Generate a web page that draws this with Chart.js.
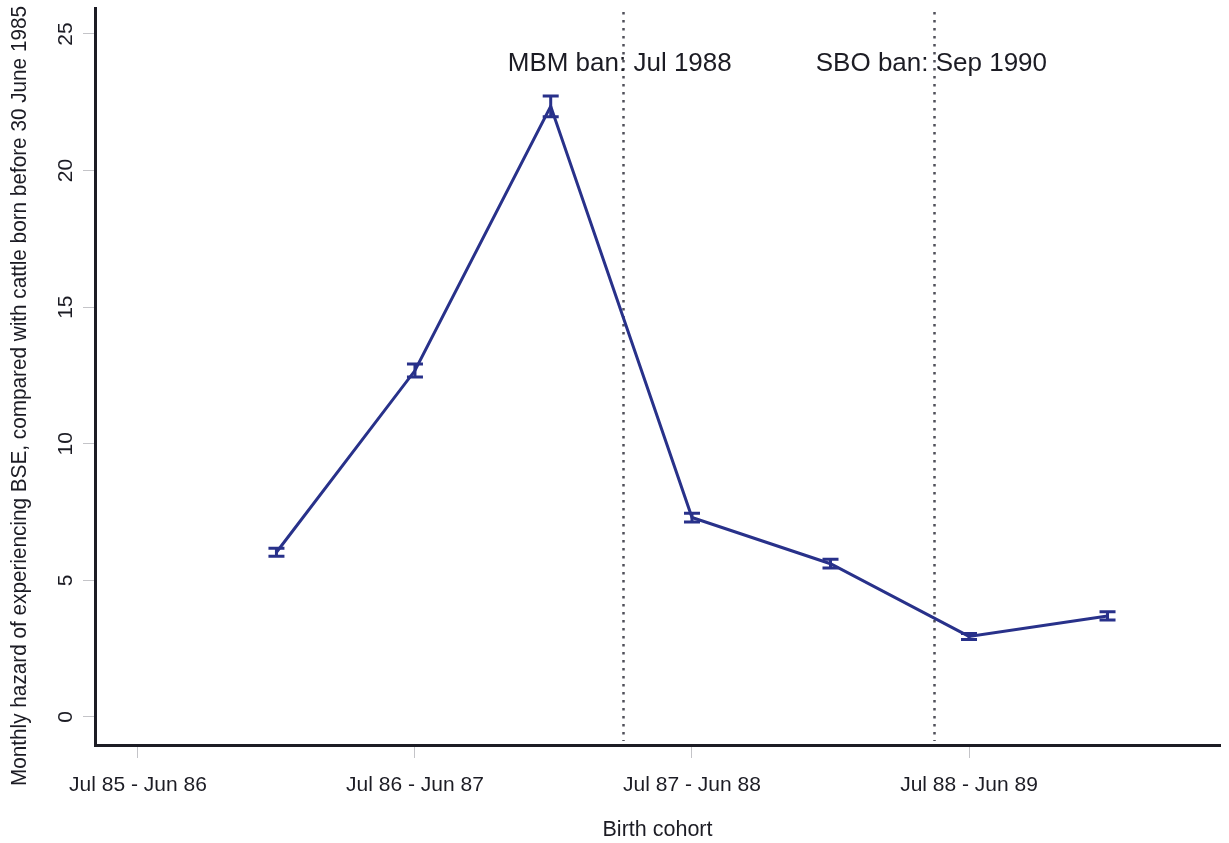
<!DOCTYPE html>
<html>
<head>
<meta charset="utf-8">
<title>Monthly hazard of BSE by birth cohort</title>
<script src="https://cdn.jsdelivr.net/npm/chart.js@4.4.1/dist/chart.umd.min.js"></script>
<style>
  html, body { margin: 0; padding: 0; background: #ffffff; }
  #wrap { width: 1229px; height: 843px; position: relative; }
</style>
</head>
<body>
<div id="wrap"><canvas id="chart" width="1229" height="843"></canvas></div>
<script>
// Birth cohort tick positions and their labels
const cohortTicks = [0, 1, 2, 3];
const cohortLabels = ['Jul 85 - Jun 86', 'Jul 86 - Jun 87', 'Jul 87 - Jun 88', 'Jul 88 - Jun 89'];

// Estimated hazard ratios (half-year steps) with confidence limits
const pointPos = [0.5, 1, 1.49, 2, 2.5, 3, 3.5];
const hazard = [6.03, 12.68, 22.35, 7.30, 5.61, 2.95, 3.70];
const ciLow  = [5.88, 12.44, 21.97, 7.14, 5.45, 2.84, 3.55];
const ciHigh = [6.18, 12.92, 22.73, 7.46, 5.77, 3.06, 3.85];

// Y axis ticks
const yTicks = [0, 5, 10, 15, 20, 25];

// Feed ban dates on the cohort axis
const banPos = [1.75, 2.875];
const banLabels = ['MBM ban: Jul 1988', 'SBO ban: Sep 1990'];

const INK = '#1c1c24';
const NAVY = '#28318a';
const FONT = '"Liberation Sans", Arial, Helvetica, sans-serif';

function drawText(ctx, text, x, y, size, sx, rot) {
  ctx.save();
  ctx.translate(x, y);
  if (rot) ctx.rotate(rot);
  ctx.scale(sx, 1);
  ctx.font = size + 'px ' + FONT;
  ctx.fillStyle = INK;
  ctx.textAlign = 'center';
  ctx.textBaseline = 'middle';
  ctx.fillText(text, 0, 0);
  ctx.restore();
}

const decorations = {
  id: 'decorations',
  beforeDatasetsDraw(chart) {
    const ctx = chart.ctx;
    const xs = chart.scales.x;
    const area = chart.chartArea;
    // dotted ban lines
    ctx.save();
    ctx.strokeStyle = '#50505a';
    ctx.lineWidth = 2.5;
    ctx.setLineDash([2.5, 5.5]);
    banPos.forEach(p => {
      const px = Math.round(xs.getPixelForValue(p)) + 0.5;
      ctx.beginPath();
      ctx.moveTo(px, area.top + 4);
      ctx.lineTo(px, area.bottom - 4);
      ctx.stroke();
    });
    ctx.restore();
  },
  afterDatasetsDraw(chart) {
    const ctx = chart.ctx;
    const xs = chart.scales.x, ys = chart.scales.y;
    // error bars with caps
    ctx.save();
    ctx.strokeStyle = NAVY;
    ctx.lineWidth = 3;
    ctx.lineCap = 'butt';
    pointPos.forEach((p, i) => {
      const px = xs.getPixelForValue(p);
      const lo = ys.getPixelForValue(ciLow[i]);
      const hi = ys.getPixelForValue(ciHigh[i]);
      ctx.beginPath();
      ctx.moveTo(px, lo); ctx.lineTo(px, hi);
      ctx.moveTo(px - 8, lo); ctx.lineTo(px + 8, lo);
      ctx.moveTo(px - 8, hi); ctx.lineTo(px + 8, hi);
      ctx.stroke();
    });
    ctx.restore();
  },
  afterDraw(chart) {
    const ctx = chart.ctx;
    const xs = chart.scales.x, ys = chart.scales.y;
    const area = chart.chartArea;
    // x tick labels
    cohortTicks.forEach((t, i) => {
      drawText(ctx, cohortLabels[i], xs.getPixelForValue(t), area.bottom + 40, 21, 1, 0);
    });
    // y tick labels, rotated
    yTicks.forEach(t => {
      drawText(ctx, String(t), area.left - 29, ys.getPixelForValue(t), 21, 1, -Math.PI / 2);
    });
    // axis titles
    drawText(ctx, 'Birth cohort', (area.left + area.right) / 2, area.bottom + 85, 21.5, 1, 0);
    const yTitle = 'Monthly hazard of experiencing BSE, compared with cattle born before 30 June 1985';
    ctx.save();
    ctx.font = '22px ' + FONT;
    const w = ctx.measureText(yTitle).width;
    ctx.restore();
    drawText(ctx, yTitle, 20, 396, 22, 780 / w, -Math.PI / 2);
    // ban annotations
    banPos.forEach((p, i) => {
      drawText(ctx, banLabels[i], xs.getPixelForValue(p) - 3, 64, 26, 1, 0);
    });
  }
};

new Chart(document.getElementById('chart'), {
  type: 'line',
  data: {
    datasets: [{
      data: pointPos.map((p, i) => ({ x: p, y: hazard[i] })),
      borderColor: NAVY,
      borderWidth: 3,
      pointRadius: 0,
      tension: 0,
      fill: false
    }]
  },
  options: {
    responsive: false,
    animation: false,
    events: [],
    layout: { padding: { left: 0, right: 9, top: 8, bottom: 0 } },
    plugins: { legend: { display: false }, tooltip: { enabled: false } },
    scales: {
      x: {
        type: 'linear',
        min: -0.155,
        max: 3.906,
        afterBuildTicks: s => { s.ticks = cohortTicks.map(v => ({ value: v })); },
        afterFit: s => { s.height = 98; },
        ticks: { display: false },
        grid: { drawOnChartArea: false, drawTicks: true, tickLength: 13, color: '#c4c4c8', lineWidth: 1 },
        border: { display: true, color: INK, width: 3 }
      },
      y: {
        type: 'linear',
        min: -1.025,
        max: 25.95,
        afterBuildTicks: s => { s.ticks = yTicks.map(v => ({ value: v })); },
        afterFit: s => { s.width = 95; },
        ticks: { display: false },
        grid: { drawOnChartArea: false, drawTicks: true, tickLength: 12, color: '#c4c4c8', lineWidth: 1 },
        border: { display: true, color: INK, width: 3 }
      }
    }
  },
  plugins: [decorations]
});
</script>
</body>
</html>
